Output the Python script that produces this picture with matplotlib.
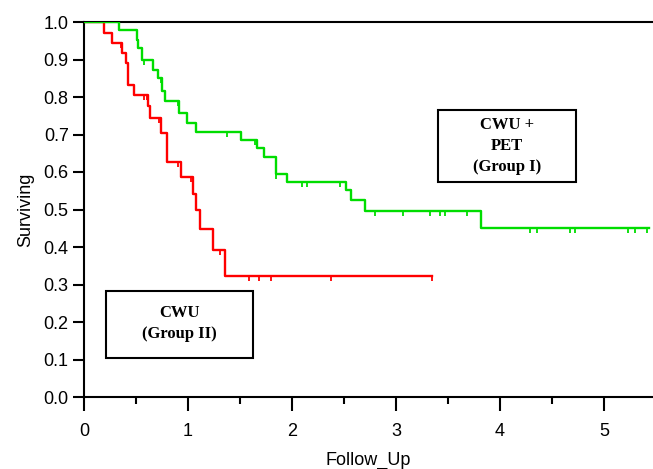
"""Kaplan-Meier style survival curves: CWU vs CWU + PET."""
import numpy as np
import matplotlib
matplotlib.use("Agg")
import matplotlib.pyplot as plt
from matplotlib.patches import Rectangle

plt.rcParams["font.family"] = ["Liberation Sans", "DejaVu Sans"]

# step curves: time of each drop and survival after it
red_t = [0, 0.196, 0.266, 0.369, 0.40, 0.426, 0.484, 0.618, 0.635, 0.737, 0.795,
         0.933, 1.051, 1.077, 1.115, 1.237, 1.356, 3.35]
red_s = [1.0, 0.971, 0.944, 0.917, 0.891, 0.833, 0.806, 0.775, 0.743, 0.705, 0.628,
         0.586, 0.541, 0.499, 0.447, 0.392, 0.322, 0.322]
red_cens = [0.356, 0.42, 0.58, 0.603, 0.724, 0.907, 1.026, 1.308, 1.587, 1.686,
            1.80, 2.37, 3.35]

green_t = [0, 0.337, 0.506, 0.522, 0.561, 0.667, 0.715, 0.753, 0.779, 0.913, 0.987,
           1.074, 1.51, 1.667, 1.734, 1.846, 1.955, 2.522, 2.565, 2.70, 3.82, 5.43]
green_s = [1.0, 0.979, 0.952, 0.932, 0.899, 0.872, 0.850, 0.816, 0.789, 0.757, 0.732,
           0.708, 0.685, 0.663, 0.641, 0.596, 0.574, 0.553, 0.525, 0.497, 0.452, 0.452]
green_cens = [0.58, 0.74, 0.90, 1.37, 1.644, 1.85, 2.10, 2.14, 2.46, 2.798, 3.07,
              3.327, 3.423, 3.471, 3.686, 4.288, 4.353, 4.673, 4.721, 5.234, 5.298, 5.41]

group1_label = "CWU +\nPET\n(Group I)"
group2_label = "CWU\n(Group II)"

RED, GREEN = "#ff0000", "#00dd00"


def surv_at(ts, ss, x):
    i = np.searchsorted(ts, x, side="right") - 1
    return np.asarray(ss)[i]


fig = plt.figure(figsize=(6.53, 4.69), dpi=100)
ax = fig.add_axes([84 / 653, 72 / 469, 569 / 653, 375 / 469])

for ts, ss, cens, col in [(red_t, red_s, red_cens, RED), (green_t, green_s, green_cens, GREEN)]:
    ax.step(ts, ss, where="post", color=col, lw=1.7, zorder=3)
    ax.plot(cens, surv_at(ts, ss, cens), ls="none", marker=3, ms=3.5, mew=1.3,
            color=col, zorder=3)

ax.set_xlim(0, 5.47)
ax.set_ylim(0, 1.0)
ax.set_xticks(np.arange(0, 6, 1))
ax.set_xticks(np.arange(0.5, 5.5, 1), minor=True)
ax.set_yticks(np.arange(0, 1.01, 0.1))
ax.set_yticklabels([f"{v:.1f}" for v in np.arange(0, 1.01, 0.1)])
ax.tick_params(axis="y", which="major", direction="out", length=8, width=1.5,
               labelsize=13, pad=3)
ax.tick_params(axis="x", which="major", direction="out", length=10, width=1.5,
               labelsize=13, pad=9)
ax.tick_params(axis="x", which="minor", direction="out", length=5, width=1.5)
ax.spines["right"].set_visible(False)
for sp in ("left", "bottom", "top"):
    ax.spines[sp].set_linewidth(1.5)
ax.set_xlabel("Follow_Up", fontsize=13, labelpad=8)
ax.set_ylabel("Surviving", fontsize=13, labelpad=7)

# annotation boxes
ax.add_patch(Rectangle((3.40, 0.573), 1.33, 0.192, fill=False, lw=1.5,
                       edgecolor="black", zorder=4))
ax.text(4.065, 0.669, group1_label, ha="center", va="center", fontsize=12,
        fontweight="bold", family=["Liberation Serif", "DejaVu Serif"],
        linespacing=1.4, zorder=5)
ax.add_patch(Rectangle((0.21, 0.104), 1.415, 0.179, fill=False, lw=1.5,
                       edgecolor="black", zorder=4))
ax.text(0.918, 0.196, group2_label, ha="center", va="center", fontsize=12,
        fontweight="bold", family=["Liberation Serif", "DejaVu Serif"],
        linespacing=1.45, zorder=5)

fig.savefig("out.png", dpi=100)
